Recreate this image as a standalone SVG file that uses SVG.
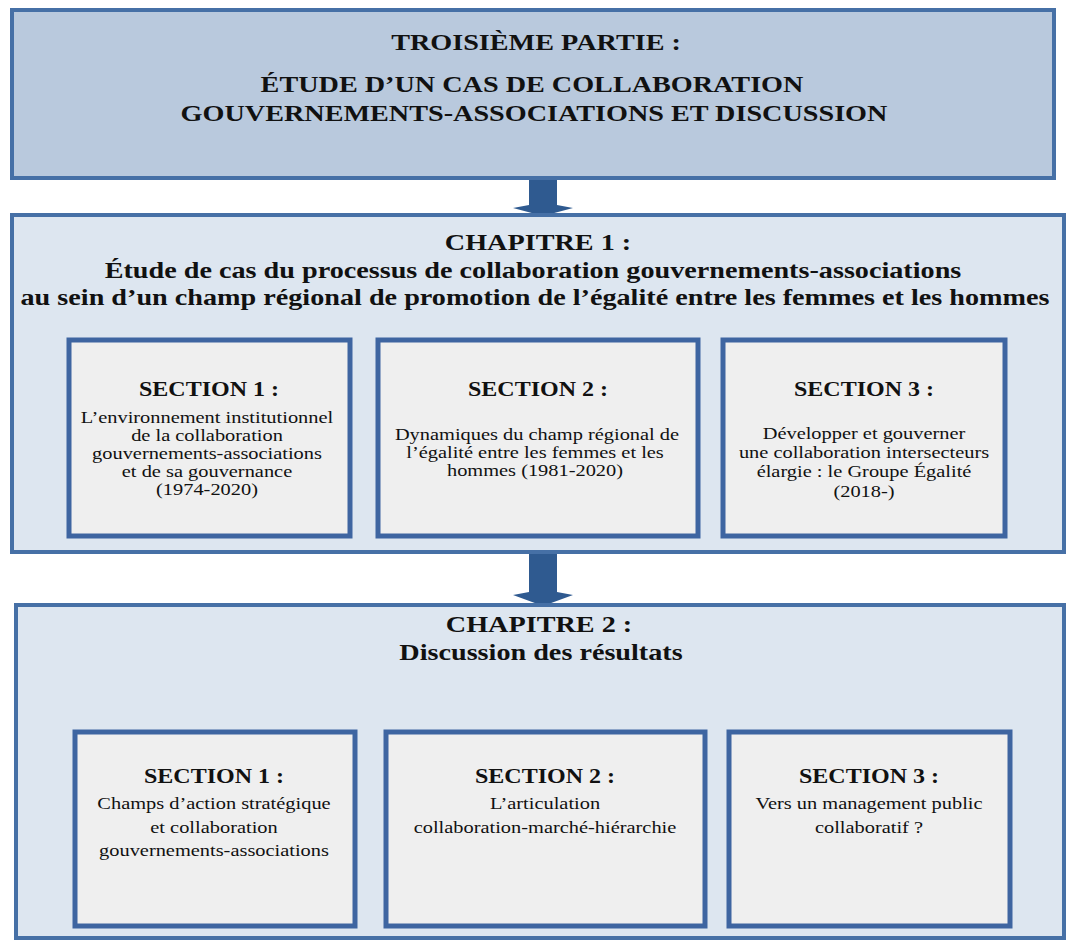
<svg xmlns="http://www.w3.org/2000/svg" width="1068" height="940" viewBox="0 0 1068 940">
<style>
.bg{fill:#ffffff}
.part{fill:#b9c9dd;stroke:#4670a6;stroke-width:4}
.chap{fill:#dde6f0;stroke:#4670a6;stroke-width:4}
.sec{fill:#efefef;stroke:#3e65a1;stroke-width:5}
.arrow{fill:#2f5a90}
text{font-family:"Liberation Serif","Times New Roman",serif;fill:#111;text-anchor:middle}
.tb{font-weight:bold;font-size:23.5px}
.sh{font-weight:bold;font-size:20px}
.bd{font-size:17px}
</style>
<rect class="bg" x="0" y="0" width="1068" height="940"/>

<g id="connectors">
  <polygon class="arrow" points="529,178 557,178 557,205 573,208 543,216 513,208 529,205"/>
  <polygon class="arrow" points="529,554 557,554 557,592 573,595 543,606 513,595 529,592"/>
</g>

<g id="partie">
  <rect class="part" x="12" y="10" width="1042" height="168"/>
  <text class="tb" transform="translate(536,50) scale(1.2,1)">TROISIÈME PARTIE :</text>
  <text class="tb" transform="translate(532,92) scale(1.2,1)">ÉTUDE D’UN CAS DE COLLABORATION</text>
  <text class="tb" transform="translate(534,121) scale(1.2,1)">GOUVERNEMENTS-ASSOCIATIONS ET DISCUSSION</text>
</g>

<g id="chapitre1">
  <rect class="chap" x="12" y="215" width="1052" height="337"/>
  <text class="tb" transform="translate(538,250) scale(1.2,1)">CHAPITRE 1 :</text>
  <text class="tb" transform="translate(533,278) scale(1.2,1)">Étude de cas du processus de collaboration gouvernements-associations</text>
  <text class="tb" transform="translate(535,305) scale(1.2,1)">au sein d’un champ régional de promotion de l’égalité entre les femmes et les hommes</text>
</g>

<g id="ch1-section1">
  <rect class="sec" x="69" y="340" width="281" height="196"/>
  <text class="sh" transform="translate(209,396) scale(1.2,1)">SECTION 1 :</text>
  <text class="bd" transform="translate(207,423) scale(1.2,1)">L’environnement institutionnel</text>
  <text class="bd" transform="translate(207,441) scale(1.2,1)">de la collaboration</text>
  <text class="bd" transform="translate(207,459) scale(1.2,1)">gouvernements-associations</text>
  <text class="bd" transform="translate(207,477) scale(1.2,1)">et de sa gouvernance</text>
  <text class="bd" transform="translate(207,495) scale(1.2,1)">(1974-2020)</text>
</g>

<g id="ch1-section2">
  <rect class="sec" x="378" y="340" width="320" height="196"/>
  <text class="sh" transform="translate(538,396) scale(1.2,1)">SECTION 2 :</text>
  <text class="bd" transform="translate(537,440) scale(1.2,1)">Dynamiques du champ régional de</text>
  <text class="bd" transform="translate(535,458) scale(1.2,1)">l’égalité entre les femmes et les</text>
  <text class="bd" transform="translate(535,476) scale(1.2,1)">hommes (1981-2020)</text>
</g>

<g id="ch1-section3">
  <rect class="sec" x="723" y="340" width="282" height="196"/>
  <text class="sh" transform="translate(864,396) scale(1.2,1)">SECTION 3 :</text>
  <text class="bd" transform="translate(864,439) scale(1.2,1)">Développer et gouverner</text>
  <text class="bd" transform="translate(864,458) scale(1.2,1)">une collaboration intersecteurs</text>
  <text class="bd" transform="translate(864,477) scale(1.2,1)">élargie : le Groupe Égalité</text>
  <text class="bd" transform="translate(864,497) scale(1.2,1)">(2018-)</text>
</g>

<g id="chapitre2">
  <rect class="chap" x="16" y="605" width="1048" height="333"/>
  <text class="tb" transform="translate(539,632) scale(1.2,1)">CHAPITRE 2 :</text>
  <text class="tb" transform="translate(541,660) scale(1.2,1)">Discussion des résultats</text>
</g>

<g id="ch2-section1">
  <rect class="sec" x="75" y="732" width="280" height="194"/>
  <text class="sh" transform="translate(214,783) scale(1.2,1)">SECTION 1 :</text>
  <text class="bd" transform="translate(214,809) scale(1.2,1)">Champs d’action stratégique</text>
  <text class="bd" transform="translate(214,833) scale(1.2,1)">et collaboration</text>
  <text class="bd" transform="translate(214,856) scale(1.2,1)">gouvernements-associations</text>
</g>

<g id="ch2-section2">
  <rect class="sec" x="386" y="732" width="319" height="194"/>
  <text class="sh" transform="translate(545,783) scale(1.2,1)">SECTION 2 :</text>
  <text class="bd" transform="translate(545,809) scale(1.2,1)">L’articulation</text>
  <text class="bd" transform="translate(545,833) scale(1.2,1)">collaboration-marché-hiérarchie</text>
</g>

<g id="ch2-section3">
  <rect class="sec" x="729" y="732" width="281" height="194"/>
  <text class="sh" transform="translate(869,783) scale(1.2,1)">SECTION 3 :</text>
  <text class="bd" transform="translate(869,809) scale(1.2,1)">Vers un management public</text>
  <text class="bd" transform="translate(869,833) scale(1.2,1)">collaboratif ?</text>
</g>
</svg>
